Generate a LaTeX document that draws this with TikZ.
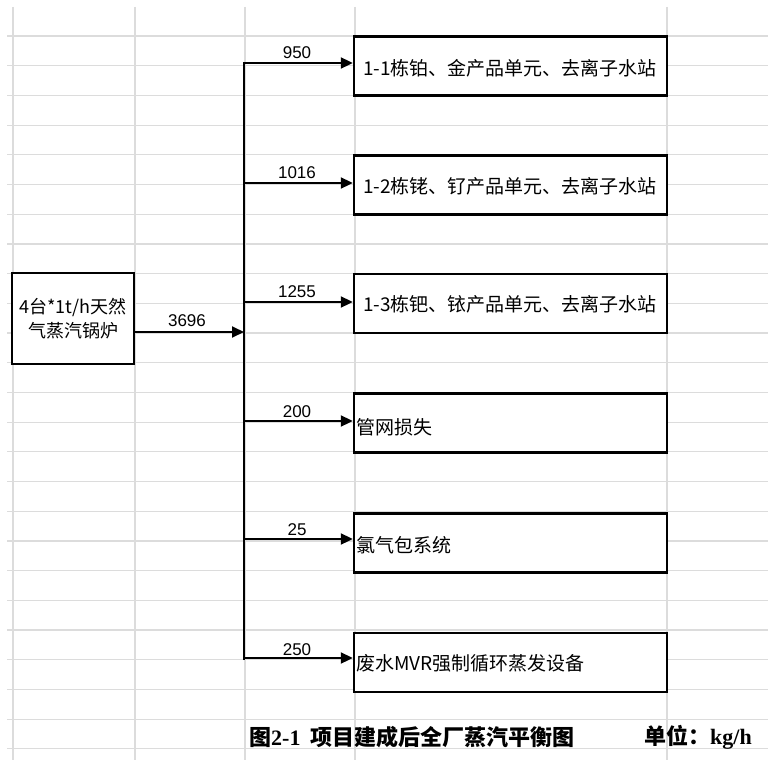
\documentclass[tikz,border=0pt]{standalone}
\usepackage{fontspec}
\setmainfont{Liberation Sans}
\newfontfamily\cjk{Noto Sans CJK SC}
\newfontfamily\tnr{Liberation Serif}
\usetikzlibrary{arrows.meta}
\definecolor{gridc}{HTML}{DCDCDC}
\tikzset{
  boxnode/.style={draw=black, line width=2.4pt, minimum width=313pt, minimum height=59pt, inner sep=0pt},
  srcnode/.style={draw=black, line width=2.4pt, minimum width=122pt, minimum height=91pt, inner sep=0pt},
  flow/.style={line width=2pt, -{Triangle[length=12pt,width=11pt]}},
  trunk/.style={line width=2pt},
  qty/.style={font=\fontsize{17}{17}\selectfont, inner sep=0pt},
  boxtxt/.style={font=\cjk\fontsize{19}{19}\selectfont, inner sep=0pt},
  captxt/.style={anchor=west, inner sep=0pt, font=\fontsize{22}{22}\selectfont\bfseries},
  gridline/.style={draw=gridc, line width=1.2pt}
}
\begin{document}
\begin{tikzpicture}[x=1pt,y=-1pt]
\useasboundingbox (0,0) rectangle (768,760);
% spreadsheet grid
\foreach \gx in {13,135,245,355,667} \draw[gridline] (\gx,7) -- (\gx,760);
\foreach \k in {0,...,24} \draw[gridline] (7,{36+29.7*\k}) -- (768,{36+29.7*\k});
% source
\node[srcnode, fill=white] (src) at (73,318.5) {};
\node[font=\cjk\fontsize{18}{18}\selectfont, inner sep=0pt] (src1) at (73,307) {4台*1t/h天然};
\node[font=\cjk\fontsize{18}{18}\selectfont, inner sep=0pt] (src2) at (73,331) {气蒸汽锅炉};
% boxes
\node[boxnode, fill=white] (b1) at (510.5,66) {};
\node[boxnode, fill=white] (b2) at (510.5,185) {};
\node[boxnode, fill=white] (b3) at (510.5,303.5) {};
\node[boxnode, fill=white] (b4) at (510.5,423) {};
\node[boxnode, fill=white] (b5) at (510.5,543) {};
\node[boxnode, fill=white] (b6) at (510.5,662.5) {};
\node[boxtxt] (t1) at (510,68) {1-1栋铂、金产品单元、去离子水站};
\node[boxtxt] (t2) at (510,186) {1-2栋铑、钌产品单元、去离子水站};
\node[boxtxt] (t3) at (510,304) {1-3栋钯、铱产品单元、去离子水站};
\node[boxtxt, anchor=west] (t4) at (356,427) {管网损失};
\node[boxtxt, anchor=west] (t5) at (356,545) {氯气包系统};
\node[boxtxt, anchor=west] (t6) at (356,663) {废水MVR强制循环蒸发设备};
% trunk
\coordinate (ttop) at (244,62);
\coordinate (tbot) at (244,660);
\coordinate (tin) at (244,332);
\coordinate (j1) at (244,63);
\coordinate (j2) at (244,183);
\coordinate (j3) at (244,302);
\coordinate (j4) at (244,421);
\coordinate (j5) at (244,539);
\coordinate (j6) at (244,658);
\draw[trunk] (ttop) -- (tbot);
\draw[flow] (src.east |- tin) -- (tin);
\draw[flow] (j1) -- (j1 -| b1.west);
\draw[flow] (j2) -- (j2 -| b2.west);
\draw[flow] (j3) -- (j3 -| b3.west);
\draw[flow] (j4) -- (j4 -| b4.west);
\draw[flow] (j5) -- (j5 -| b5.west);
\draw[flow] (j6) -- (j6 -| b6.west);
% quantities
\node[qty] (q0) at (187,321) {3696};
\node[qty] (q1) at (297,53) {950};
\node[qty] (q2) at (297,173) {1016};
\node[qty] (q3) at (297,292) {1255};
\node[qty] (q4) at (297,412) {200};
\node[qty] (q5) at (297,530) {25};
\node[qty] (q6) at (297,650) {250};
% caption
\node[captxt] (cap) at (249,737) {\cjk 图\tnr 2-1\hspace{10pt}\cjk 项目建成后全厂蒸汽平衡图};
\node[captxt] (unit) at (644,737) {\cjk 单位：\tnr kg/h};
\end{tikzpicture}
\end{document}
